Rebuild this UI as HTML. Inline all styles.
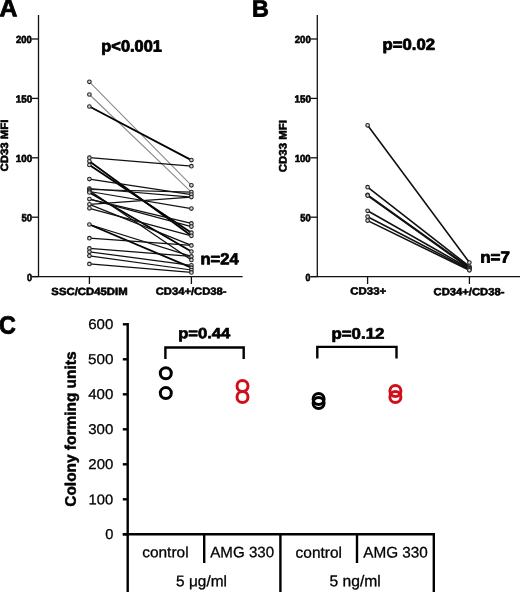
<!DOCTYPE html><html><head><meta charset="utf-8"><style>
html,body{margin:0;padding:0;background:#fff;}
svg{display:block;will-change:transform;}
text{text-rendering:geometricPrecision;font-family:"Liberation Sans", sans-serif;}
</style></head><body>
<svg width="520" height="592" viewBox="0 0 520 592">
<g stroke="#111" stroke-width="1.3" fill="none"><line x1="38.50" y1="15" x2="38.50" y2="276.60"/><line x1="31.70" y1="276.60" x2="242.60" y2="276.60"/><line x1="31.70" y1="39.00" x2="38.50" y2="39.00"/><line x1="31.70" y1="98.40" x2="38.50" y2="98.40"/><line x1="31.70" y1="157.80" x2="38.50" y2="157.80"/><line x1="31.70" y1="217.20" x2="38.50" y2="217.20"/><line x1="31.70" y1="276.60" x2="38.50" y2="276.60"/><line x1="89.40" y1="276.60" x2="89.40" y2="284.00"/><line x1="191.40" y1="276.60" x2="191.40" y2="284.00"/></g>
<g stroke="#111" stroke-width="1.3" fill="none"><line x1="317.30" y1="15" x2="317.30" y2="276.60"/><line x1="310.50" y1="276.60" x2="520.00" y2="276.60"/><line x1="310.50" y1="39.00" x2="317.30" y2="39.00"/><line x1="310.50" y1="98.40" x2="317.30" y2="98.40"/><line x1="310.50" y1="157.80" x2="317.30" y2="157.80"/><line x1="310.50" y1="217.20" x2="317.30" y2="217.20"/><line x1="310.50" y1="276.60" x2="317.30" y2="276.60"/><line x1="367.60" y1="276.60" x2="367.60" y2="284.00"/><line x1="469.40" y1="276.60" x2="469.40" y2="284.00"/></g>
<g fill="none" stroke-linecap="round">
<line x1="89.4" y1="81.8" x2="191.4" y2="185.3" stroke="#8a8a8a" stroke-width="1.1"/>
<line x1="89.4" y1="94.5" x2="191.4" y2="192.1" stroke="#8a8a8a" stroke-width="1.1"/>
<line x1="89.4" y1="106.5" x2="191.4" y2="160.1" stroke="#000" stroke-width="1.8"/>
<line x1="89.4" y1="157.7" x2="191.4" y2="166.2" stroke="#111" stroke-width="1.25"/>
<line x1="89.4" y1="161.3" x2="191.4" y2="235.8" stroke="#000" stroke-width="1.8"/>
<line x1="89.4" y1="165.0" x2="191.4" y2="232.7" stroke="#000" stroke-width="1.8"/>
<line x1="89.4" y1="179.1" x2="191.4" y2="194.6" stroke="#111" stroke-width="1.25"/>
<line x1="89.4" y1="188.5" x2="191.4" y2="197.1" stroke="#111" stroke-width="1.25"/>
<line x1="89.4" y1="189.5" x2="191.4" y2="192.1" stroke="#111" stroke-width="1.25"/>
<line x1="89.4" y1="191.5" x2="191.4" y2="208.6" stroke="#111" stroke-width="1.25"/>
<line x1="89.4" y1="192.5" x2="191.4" y2="251.5" stroke="#000" stroke-width="1.8"/>
<line x1="89.4" y1="190.5" x2="191.4" y2="259.9" stroke="#111" stroke-width="1.25"/>
<line x1="89.4" y1="199.1" x2="191.4" y2="223.4" stroke="#111" stroke-width="1.25"/>
<line x1="89.4" y1="199.1" x2="191.4" y2="226.6" stroke="#111" stroke-width="1.25"/>
<line x1="89.4" y1="204.3" x2="191.4" y2="245.4" stroke="#111" stroke-width="1.25"/>
<line x1="89.4" y1="204.3" x2="191.4" y2="197.1" stroke="#111" stroke-width="1.25"/>
<line x1="89.4" y1="208.3" x2="191.4" y2="235.8" stroke="#111" stroke-width="1.25"/>
<line x1="89.4" y1="224.5" x2="191.4" y2="256.4" stroke="#111" stroke-width="1.25"/>
<line x1="89.4" y1="224.5" x2="191.4" y2="267.7" stroke="#000" stroke-width="1.8"/>
<line x1="89.4" y1="238.2" x2="191.4" y2="245.4" stroke="#111" stroke-width="1.25"/>
<line x1="89.4" y1="248.4" x2="191.4" y2="256.4" stroke="#111" stroke-width="1.25"/>
<line x1="89.4" y1="251.8" x2="191.4" y2="265.3" stroke="#111" stroke-width="1.25"/>
<line x1="89.4" y1="255.8" x2="191.4" y2="270.0" stroke="#111" stroke-width="1.25"/>
<line x1="89.4" y1="263.9" x2="191.4" y2="272.4" stroke="#111" stroke-width="1.25"/>
</g>
<g fill="#d8d8d8" stroke="#222" stroke-width="1.1">
<circle cx="89.4" cy="81.8" r="1.8"/>
<circle cx="89.4" cy="94.5" r="1.8"/>
<circle cx="89.4" cy="106.5" r="1.8"/>
<circle cx="89.4" cy="157.7" r="1.8"/>
<circle cx="89.4" cy="161.3" r="1.8"/>
<circle cx="89.4" cy="165.0" r="1.8"/>
<circle cx="89.4" cy="179.1" r="1.8"/>
<circle cx="89.4" cy="188.5" r="1.8"/>
<circle cx="89.4" cy="189.5" r="1.8"/>
<circle cx="89.4" cy="190.5" r="1.8"/>
<circle cx="89.4" cy="191.5" r="1.8"/>
<circle cx="89.4" cy="192.5" r="1.8"/>
<circle cx="89.4" cy="199.1" r="1.8"/>
<circle cx="89.4" cy="204.3" r="1.8"/>
<circle cx="89.4" cy="208.3" r="1.8"/>
<circle cx="89.4" cy="224.5" r="1.8"/>
<circle cx="89.4" cy="238.2" r="1.8"/>
<circle cx="89.4" cy="248.4" r="1.8"/>
<circle cx="89.4" cy="251.8" r="1.8"/>
<circle cx="89.4" cy="255.8" r="1.8"/>
<circle cx="89.4" cy="263.9" r="1.8"/>
<circle cx="191.4" cy="160.1" r="1.8"/>
<circle cx="191.4" cy="166.2" r="1.8"/>
<circle cx="191.4" cy="185.3" r="1.8"/>
<circle cx="191.4" cy="192.1" r="1.8"/>
<circle cx="191.4" cy="194.6" r="1.8"/>
<circle cx="191.4" cy="197.1" r="1.8"/>
<circle cx="191.4" cy="208.6" r="1.8"/>
<circle cx="191.4" cy="223.4" r="1.8"/>
<circle cx="191.4" cy="226.6" r="1.8"/>
<circle cx="191.4" cy="232.7" r="1.8"/>
<circle cx="191.4" cy="235.8" r="1.8"/>
<circle cx="191.4" cy="245.4" r="1.8"/>
<circle cx="191.4" cy="251.5" r="1.8"/>
<circle cx="191.4" cy="256.4" r="1.8"/>
<circle cx="191.4" cy="259.9" r="1.8"/>
<circle cx="191.4" cy="265.3" r="1.8"/>
<circle cx="191.4" cy="267.7" r="1.8"/>
<circle cx="191.4" cy="270.0" r="1.8"/>
<circle cx="191.4" cy="272.4" r="1.8"/>
</g>
<g fill="none" stroke="#111" stroke-width="1.6" stroke-linecap="round">
<line x1="367.6" y1="125.3" x2="469.4" y2="262.5"/>
<line x1="367.6" y1="187.2" x2="469.4" y2="266.5"/>
<line x1="367.6" y1="194.8" x2="469.4" y2="267.5"/>
<line x1="367.6" y1="195.6" x2="469.4" y2="268.3"/>
<line x1="367.6" y1="210.8" x2="469.4" y2="268.6"/>
<line x1="367.6" y1="216.7" x2="469.4" y2="269.4"/>
<line x1="367.6" y1="220.6" x2="469.4" y2="270.3"/>
</g>
<g fill="#d8d8d8" stroke="#222" stroke-width="1.1">
<circle cx="367.6" cy="125.3" r="1.8"/>
<circle cx="469.4" cy="262.5" r="1.8"/>
<circle cx="367.6" cy="187.2" r="1.8"/>
<circle cx="469.4" cy="266.5" r="1.8"/>
<circle cx="367.6" cy="194.8" r="1.8"/>
<circle cx="469.4" cy="267.5" r="1.8"/>
<circle cx="367.6" cy="195.6" r="1.8"/>
<circle cx="469.4" cy="268.3" r="1.8"/>
<circle cx="367.6" cy="210.8" r="1.8"/>
<circle cx="469.4" cy="268.6" r="1.8"/>
<circle cx="367.6" cy="216.7" r="1.8"/>
<circle cx="469.4" cy="269.4" r="1.8"/>
<circle cx="367.6" cy="220.6" r="1.8"/>
<circle cx="469.4" cy="270.3" r="1.8"/>
</g>
<g stroke="#000" stroke-width="2.4" fill="none">
<line x1="127.7" y1="323.1" x2="127.7" y2="592"/>
<line x1="122.8" y1="534.3" x2="435" y2="534.3"/>
<line x1="122.8" y1="534.3" x2="127.7" y2="534.3"/>
<line x1="122.8" y1="499.3" x2="127.7" y2="499.3"/>
<line x1="122.8" y1="464.3" x2="127.7" y2="464.3"/>
<line x1="122.8" y1="429.3" x2="127.7" y2="429.3"/>
<line x1="122.8" y1="394.3" x2="127.7" y2="394.3"/>
<line x1="122.8" y1="359.3" x2="127.7" y2="359.3"/>
<line x1="122.8" y1="324.3" x2="127.7" y2="324.3"/>
<line x1="204.2" y1="534.3" x2="204.2" y2="563"/>
<line x1="357" y1="534.3" x2="357" y2="563"/>
<line x1="280.4" y1="534.3" x2="280.4" y2="592"/>
<line x1="433.8" y1="533.1" x2="433.8" y2="592"/>
<path d="M165.4,359 V347.5 H243.7 V359"/>
<path d="M317.3,358.5 V346.9 H396.5 V358.5"/>
</g>
<g fill="none" stroke-width="3">
<circle cx="165.8" cy="373.3" r="5.5" stroke="#000"/>
<circle cx="165.8" cy="393.1" r="5.5" stroke="#000"/>
<circle cx="242.5" cy="386.0" r="5.5" stroke="#d10f1b"/>
<circle cx="242.5" cy="397.0" r="5.5" stroke="#d10f1b"/>
<circle cx="318.6" cy="399.0" r="5.5" stroke="#000"/>
<circle cx="318.6" cy="403.0" r="5.5" stroke="#000"/>
<circle cx="395.4" cy="391.0" r="5.5" stroke="#d10f1b"/>
<circle cx="395.4" cy="397.0" r="5.5" stroke="#d10f1b"/>
</g>
<text transform="matrix(1.0338,0.0005,0.0005,1.0338,-0.495,16.143)" font-size="24" font-weight="bold" stroke="#000" stroke-width="0.8" stroke-linejoin="round">A</text>
<text transform="matrix(0.9737,0.0005,0.0005,0.9737,251.968,16.403)" font-size="24" font-weight="bold" stroke="#000" stroke-width="0.8" stroke-linejoin="round">B</text>
<text transform="matrix(0.9722,0.0005,0.0005,1.0368,-0.940,333.561)" font-size="24" font-weight="bold" stroke="#000" stroke-width="0.8" stroke-linejoin="round">C</text>
<text transform="matrix(1.0255,0.0005,0.0005,1.0107,101.285,51.501)" font-size="16" font-weight="bold" stroke="#000" stroke-width="0.8" stroke-linejoin="round">p&lt;0.001</text>
<text transform="matrix(1.0469,0.0005,0.0005,0.9885,382.536,49.853)" font-size="16" font-weight="bold" stroke="#000" stroke-width="0.8" stroke-linejoin="round">p=0.02</text>
<text transform="matrix(1.0362,0.0005,0.0005,0.9973,200.397,264.176)" font-size="16" font-weight="bold" stroke="#000" stroke-width="0.8" stroke-linejoin="round">n=24</text>
<text transform="matrix(1.0642,0.0005,0.0005,0.9950,480.212,262.407)" font-size="16" font-weight="bold" stroke="#000" stroke-width="0.8" stroke-linejoin="round">n=7</text>
<text transform="matrix(1.0719,0.0005,0.0005,0.9590,178.156,338.256)" font-size="15.5" font-weight="bold" stroke="#000" stroke-width="0.7" stroke-linejoin="round">p=0.44</text>
<text transform="matrix(1.0888,0.0005,0.0005,0.9953,331.418,338.778)" font-size="15.5" font-weight="bold" stroke="#000" stroke-width="0.7" stroke-linejoin="round">p=0.12</text>
<text transform="matrix(1.0315,0.0005,0.0005,0.9500,51.345,294.970)" font-size="11" font-weight="bold" stroke="#000" stroke-width="0.6" stroke-linejoin="round">SSC/CD45DIM</text>
<text transform="matrix(1.0212,0.0005,0.0005,0.9500,155.667,294.749)" font-size="11" font-weight="bold" stroke="#000" stroke-width="0.6" stroke-linejoin="round">CD34+/CD38-</text>
<text transform="matrix(1.0391,0.0005,0.0005,0.9500,350.304,294.594)" font-size="11" font-weight="bold" stroke="#000" stroke-width="0.6" stroke-linejoin="round">CD33+</text>
<text transform="matrix(1.0232,0.0005,0.0005,0.9500,433.509,295.197)" font-size="11" font-weight="bold" stroke="#000" stroke-width="0.6" stroke-linejoin="round">CD34+/CD38-</text>
<text transform="matrix(0.0005,-1.0387,0.9595,0.0005,8.031,171.553)" font-size="11" font-weight="bold" stroke="#000" stroke-width="0.6" stroke-linejoin="round">CD33 MFI</text>
<text transform="matrix(0.0005,-1.0385,0.9817,0.0005,286.375,172.127)" font-size="11" font-weight="bold" stroke="#000" stroke-width="0.6" stroke-linejoin="round">CD33 MFI</text>
<text transform="matrix(0.0005,-1.0291,1.0153,0.0005,75.688,506.736)" font-size="15" font-weight="bold" stroke="#000" stroke-width="0.5" stroke-linejoin="round">Colony forming units</text>
<text transform="matrix(0.9429,0.0005,0.0005,1.0300,16.121,42.933)" font-size="10" font-weight="bold" stroke="#000" stroke-width="0.6" stroke-linejoin="round">200</text>
<text transform="matrix(0.9563,0.0005,0.0005,1.0300,294.759,42.968)" font-size="10" font-weight="bold" stroke="#000" stroke-width="0.6" stroke-linejoin="round">200</text>
<text transform="matrix(0.9829,0.0005,0.0005,1.0300,15.694,102.376)" font-size="10" font-weight="bold" stroke="#000" stroke-width="0.6" stroke-linejoin="round">150</text>
<text transform="matrix(0.9886,0.0005,0.0005,1.0300,294.496,102.388)" font-size="10" font-weight="bold" stroke="#000" stroke-width="0.6" stroke-linejoin="round">150</text>
<text transform="matrix(0.9828,0.0005,0.0005,1.0300,15.810,161.995)" font-size="10" font-weight="bold" stroke="#000" stroke-width="0.6" stroke-linejoin="round">100</text>
<text transform="matrix(0.9623,0.0005,0.0005,1.0300,294.666,161.897)" font-size="10" font-weight="bold" stroke="#000" stroke-width="0.6" stroke-linejoin="round">100</text>
<text transform="matrix(0.9449,0.0005,0.0005,1.0300,21.422,221.341)" font-size="10" font-weight="bold" stroke="#000" stroke-width="0.6" stroke-linejoin="round">50</text>
<text transform="matrix(0.9416,0.0005,0.0005,1.0300,300.143,221.303)" font-size="10" font-weight="bold" stroke="#000" stroke-width="0.6" stroke-linejoin="round">50</text>
<text transform="matrix(0.9115,0.0005,0.0005,1.0300,26.917,280.883)" font-size="10" font-weight="bold" stroke="#000" stroke-width="0.6" stroke-linejoin="round">0</text>
<text transform="matrix(0.8836,0.0005,0.0005,1.0300,305.623,280.959)" font-size="10" font-weight="bold" stroke="#000" stroke-width="0.6" stroke-linejoin="round">0</text>
<text transform="matrix(0.9448,0.0005,0.0005,0.9206,105.264,539.065)" font-size="15.5" font-weight="normal" stroke="#000" stroke-width="0.3" stroke-linejoin="round">0</text>
<text transform="matrix(0.9518,0.0005,0.0005,0.9049,88.564,504.157)" font-size="15.5" font-weight="normal" stroke="#000" stroke-width="0.3" stroke-linejoin="round">100</text>
<text transform="matrix(0.9679,0.0005,0.0005,0.9153,88.282,469.057)" font-size="15.5" font-weight="normal" stroke="#000" stroke-width="0.3" stroke-linejoin="round">200</text>
<text transform="matrix(0.9728,0.0005,0.0005,0.9143,88.154,434.046)" font-size="15.5" font-weight="normal" stroke="#000" stroke-width="0.3" stroke-linejoin="round">300</text>
<text transform="matrix(0.9745,0.0005,0.0005,0.9163,88.170,399.116)" font-size="15.5" font-weight="normal" stroke="#000" stroke-width="0.3" stroke-linejoin="round">400</text>
<text transform="matrix(0.9862,0.0005,0.0005,0.9192,87.952,364.111)" font-size="15.5" font-weight="normal" stroke="#000" stroke-width="0.3" stroke-linejoin="round">500</text>
<text transform="matrix(0.9722,0.0005,0.0005,0.9139,88.158,329.042)" font-size="15.5" font-weight="normal" stroke="#000" stroke-width="0.3" stroke-linejoin="round">600</text>
<text transform="matrix(0.9981,0.0005,0.0005,0.9638,142.175,557.246)" font-size="15.5" font-weight="normal" stroke="#000" stroke-width="0.3" stroke-linejoin="round">control</text>
<text transform="matrix(0.9760,0.0005,0.0005,0.9732,210.249,557.154)" font-size="15.5" font-weight="normal" stroke="#000" stroke-width="0.3" stroke-linejoin="round">AMG 330</text>
<text transform="matrix(0.9967,0.0005,0.0005,0.9947,295.569,557.822)" font-size="15.5" font-weight="normal" stroke="#000" stroke-width="0.3" stroke-linejoin="round">control</text>
<text transform="matrix(0.9882,0.0005,0.0005,0.9910,363.169,557.504)" font-size="15.5" font-weight="normal" stroke="#000" stroke-width="0.3" stroke-linejoin="round">AMG 330</text>
<text transform="matrix(0.9955,0.0005,0.0005,0.9888,176.072,586.316)" font-size="15.5" font-weight="normal" stroke="#000" stroke-width="0.3" stroke-linejoin="round">5 &#956;g/ml</text>
<text transform="matrix(1.0123,0.0005,0.0005,1.0068,329.397,586.347)" font-size="15.5" font-weight="normal" stroke="#000" stroke-width="0.3" stroke-linejoin="round">5 ng/ml</text>
</svg></body></html>
